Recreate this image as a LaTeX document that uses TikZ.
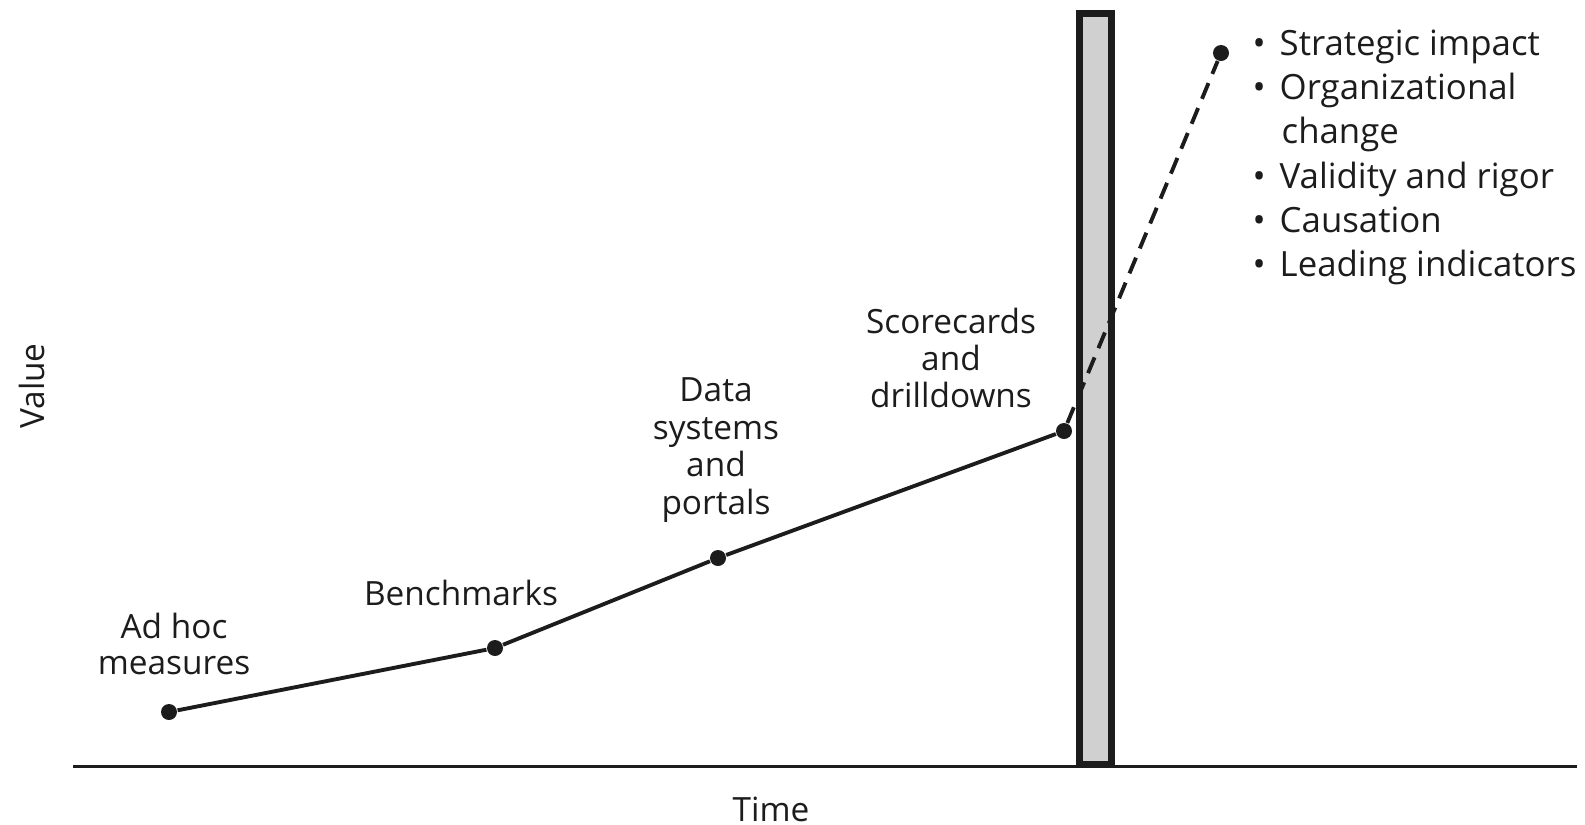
\documentclass[tikz,border=0pt]{standalone}
\usepackage{fontspec}
\setmainfont{Open Sans}
\usetikzlibrary{positioning}
\definecolor{barfill}{RGB}{208,208,208}
\definecolor{inkdark}{RGB}{28,28,28}
\newcommand\listdot{\makebox[2.7mm][l]{\textbullet}}

\begin{document}
\begin{tikzpicture}[
  x=0.1mm, y=-0.1mm,
  milestone/.style={circle, fill=inkdark, inner sep=0pt, minimum size=1.6mm},
  stage/.style={align=center, inner sep=0pt, text=inkdark},
  trend/.style={draw=inkdark, line width=1.1pt},
  every node/.style={font=\fontsize{9.5}{10.5}\selectfont}
]
  \useasboundingbox (0,0) rectangle (1585,824);

  % Time axis and cut-off bar
  \coordinate (t0) at (73,766);
  \coordinate (t1) at (1577,766);
  \draw[inkdark, line width=0.85pt] (t0) -- (t1);
  \node[draw=inkdark, fill=barfill, line width=2pt, inner sep=0pt,
        minimum width=3.2mm, minimum height=75.15mm]
        (cutoff) at (1095.5,389) {};

  % Milestones
  \node[milestone] (adhoc)  at (169,712) {};
  \node[milestone] (bench)  at (495,648) {};
  \node[milestone] (data)   at (718,558) {};
  \node[milestone] (score)  at (1064,431) {};
  \node[milestone] (future) at (1221,53) {};

  \draw[trend] (adhoc) -- (bench) -- (data) -- (score);
  \draw[trend, dash pattern=on 1.7mm off 1mm] (score) -- (future);

  % Labels
  \node[stage] (adhoclbl) at (174,644) {Ad hoc\\measures};
  \node[stage] (benchlbl) at (461,593) {Benchmarks};
  \node[stage, font=\fontsize{9.5}{10.7}\selectfont]
        (datalbl)  at (716,450) {Data\\systems\\and\\portals};
  \node[stage] (scorelbl) at (951,358) {Scorecards\\and\\drilldowns};
  \node[stage, align=left, anchor=north west,
        font=\fontsize{9.9}{12.6}\selectfont]
        (gains) at (1252,29)
        {\listdot Strategic impact\\
         \listdot Organizational\\
         \hspace{2.9mm}change\\
         \listdot Validity and rigor\\
         \listdot Causation\\
         \listdot Leading indicators};

  % Axis titles
  \node[stage] (timelbl)  at (771,809) {Time};
  \node[stage, rotate=90] (valuelbl) at (32,386) {Value};
\end{tikzpicture}
\end{document}
